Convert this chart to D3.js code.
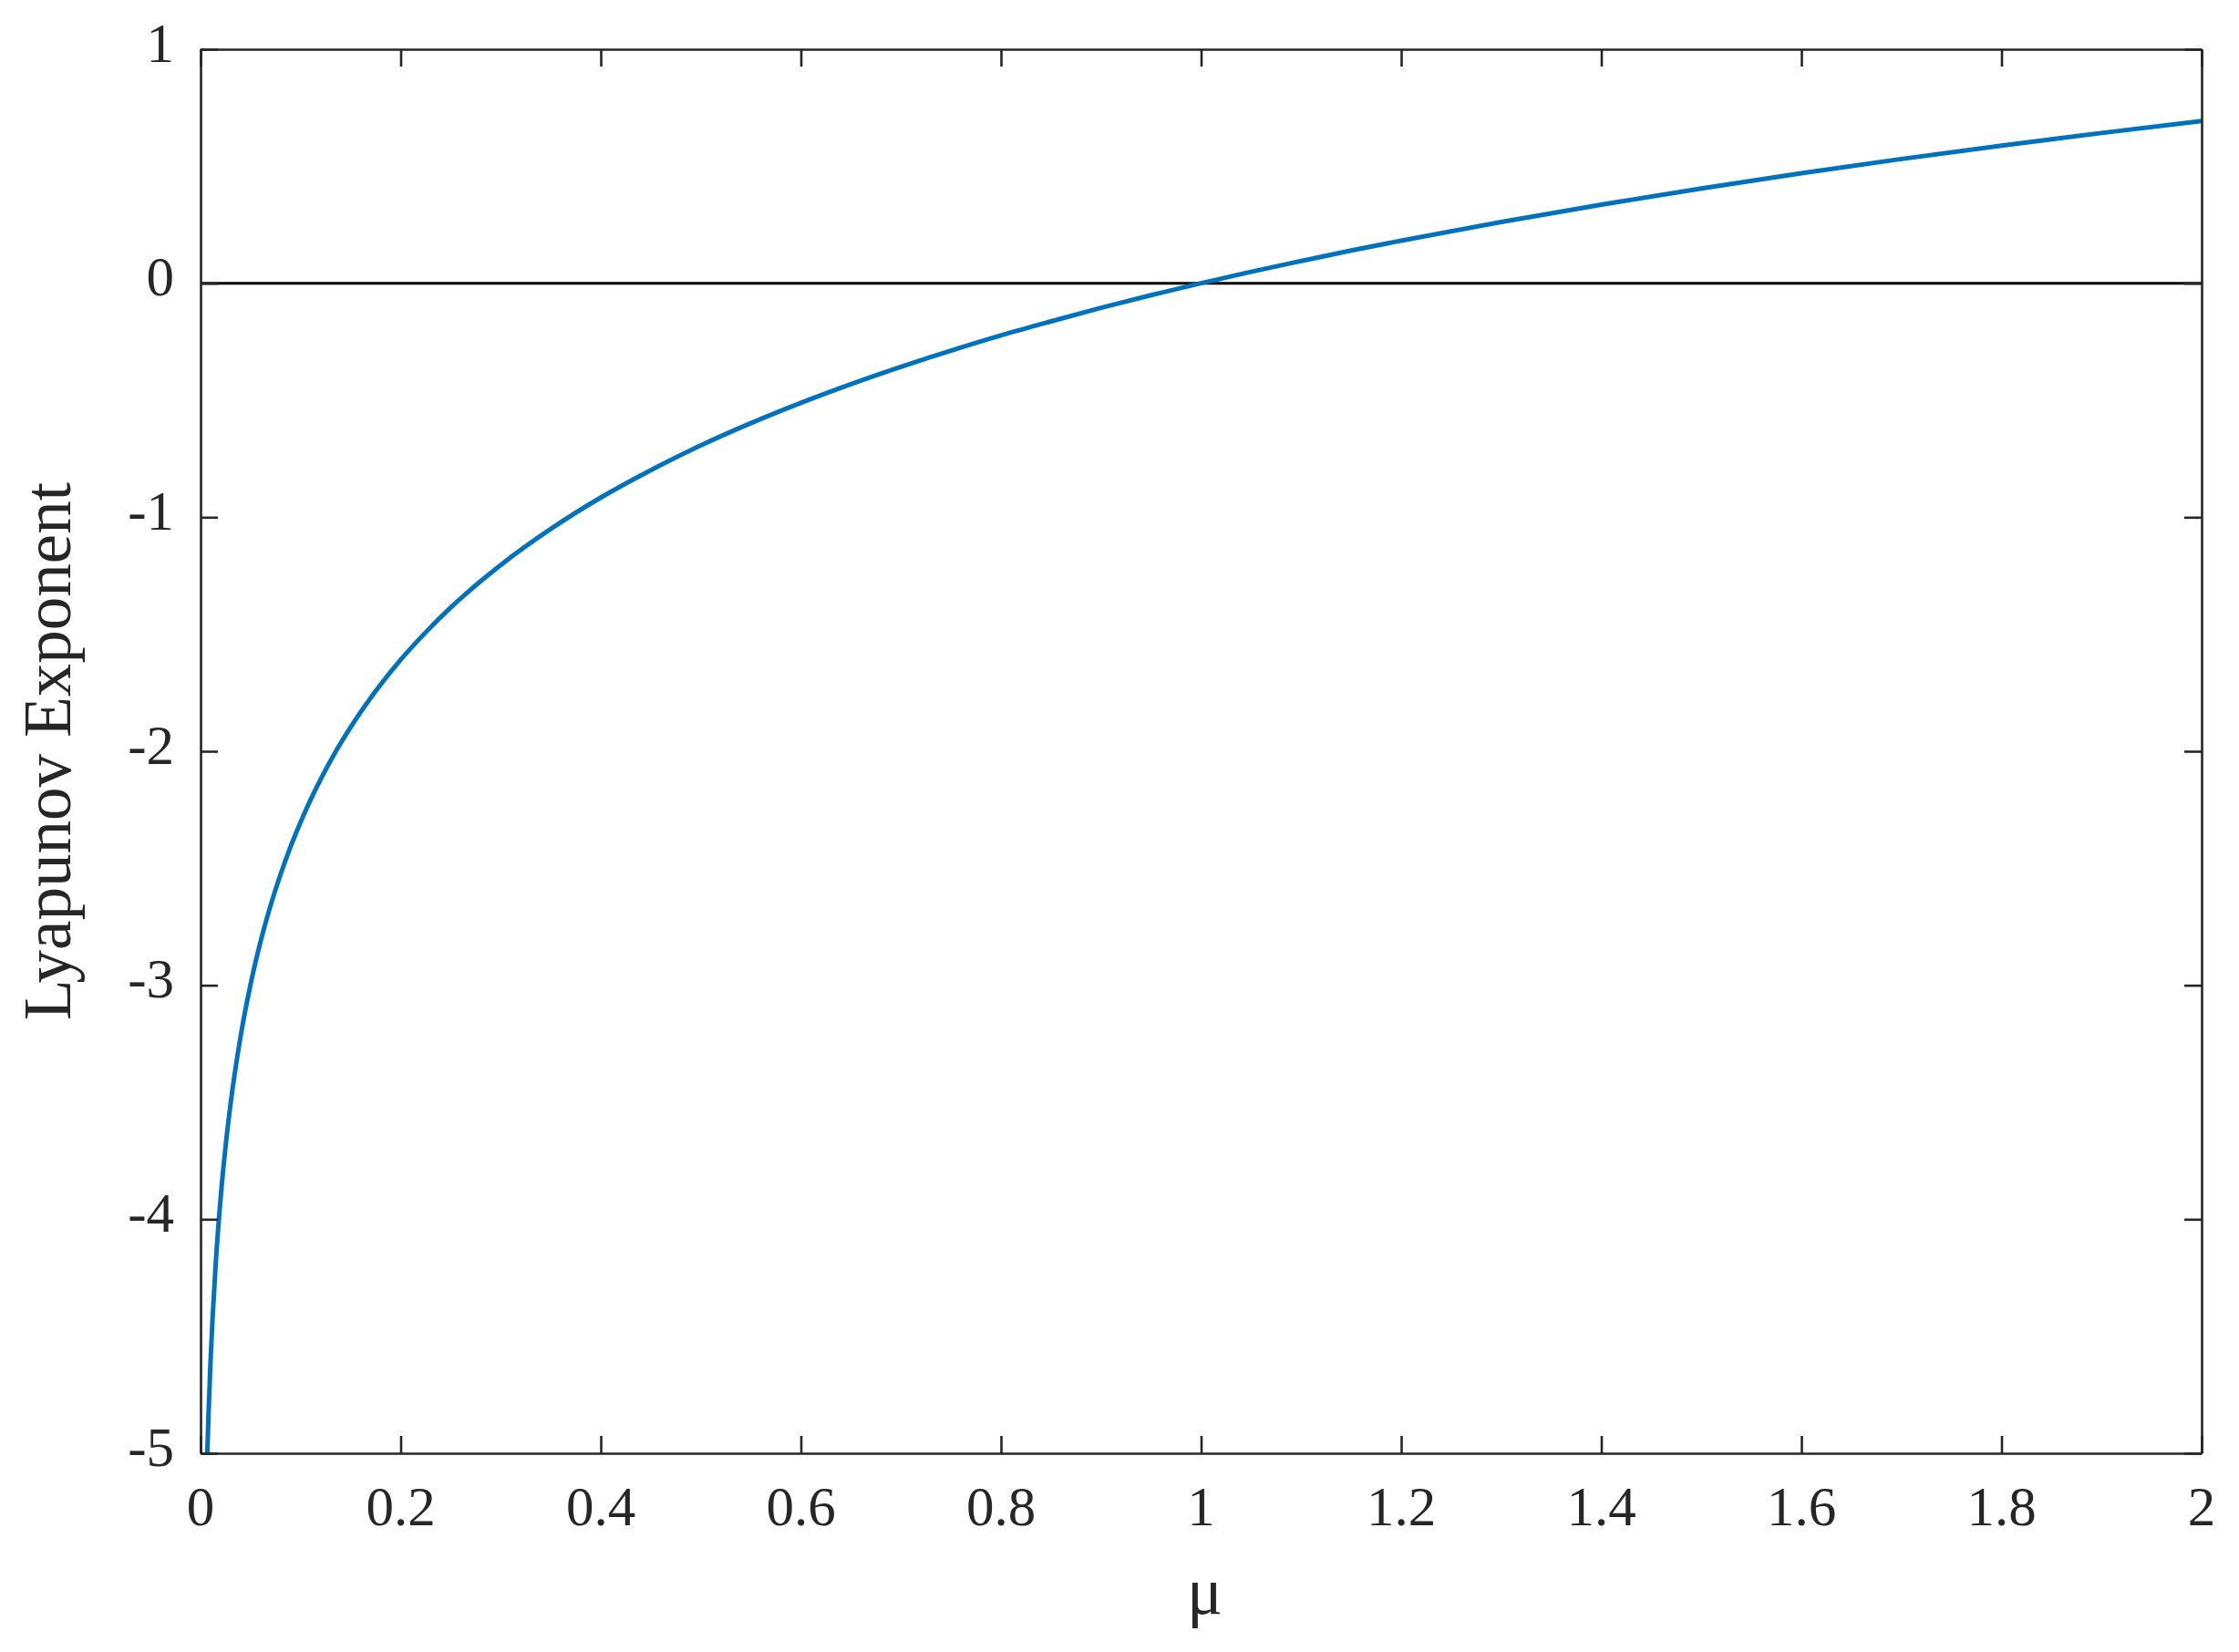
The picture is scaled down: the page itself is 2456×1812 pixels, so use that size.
<!DOCTYPE html>
<html>
<head>
<meta charset="utf-8">
<script src="https://cdn.jsdelivr.net/npm/d3@7"></script>
<style>
  html, body { margin: 0; padding: 0; background: #fff; }
  svg { display: block; }
</style>
</head>
<body>
<div id="chart"></div>
<script>
// values
const muValues = [0.0067, 0.008, 0.01, 0.012, 0.015, 0.02, 0.025, 0.03, 0.04, 0.05,
  0.06, 0.07, 0.08, 0.09, 0.1, 0.11, 0.12, 0.135, 0.15, 0.175, 0.2, 0.225, 0.25, 0.275,
  0.3, 0.35, 0.4, 0.45, 0.5, 0.55, 0.6, 0.65, 0.7, 0.75, 0.8, 0.85, 0.9, 0.95,
  1.0, 1.05, 1.1, 1.15, 1.2, 1.3, 1.4, 1.5, 1.6, 1.7, 1.8, 1.9, 2.0];
const lyapValues = [-5.0, -4.828, -4.605, -4.423, -4.200, -3.912, -3.689, -3.507, -3.219, -2.996,
  -2.813, -2.659, -2.526, -2.408, -2.303, -2.207, -2.120, -2.002, -1.897, -1.743, -1.609, -1.492, -1.386, -1.291,
  -1.204, -1.050, -0.916, -0.799, -0.693, -0.598, -0.511, -0.431, -0.357, -0.288, -0.223, -0.163, -0.105, -0.051,
  0.0, 0.049, 0.095, 0.140, 0.182, 0.262, 0.336, 0.405, 0.470, 0.531, 0.588, 0.642, 0.693];
const xTicks = [0, 0.2, 0.4, 0.6, 0.8, 1, 1.2, 1.4, 1.6, 1.8, 2];
const yTicks = [1, 0, -1, -2, -3, -4, -5];

const W = 2456, H = 1812
, plotLeft = 220, plotRight = 2415, plotTop = 54, plotBottom = 1594
, tickLen = 19
, axisColor = "#262626"
, lineColor = "#0072BD"
, font = "'Liberation Serif', 'Times New Roman', serif";

const x = d3.scaleLinear().domain([0, 2]).range([plotLeft, plotRight]);
const y = d3.scaleLinear().domain([-5, 1]).range([plotBottom, plotTop]);

const svg = d3.select("#chart").append("svg")
  .attr("width", W)
  .attr("height", H);

// zero line
svg.append("line")
  .attr("x1", x(0)).attr("x2", x(2))
  .attr("y1", y(0)).attr("y2", y(0))
  .style("stroke", "#000")
  .style("stroke-width", 3);

// curve
const data = muValues.map((m, i) => [m, lyapValues[i]]);
const line = d3.line()
  .x(d => x(d[0]))
  .y(d => y(d[1]))
  .curve(d3.curveMonotoneX);

svg.append("path")
  .datum(data)
  .attr("d", line)
  .style("fill", "none")
  .style("stroke", lineColor)
  .style("stroke-width", 5);

// axes, ticks pointing inward on all four sides
function styleAxis(g) {
  g.select(".domain").style("stroke", axisColor).style("stroke-width", 2.6);
  g.selectAll(".tick line").style("stroke", axisColor).style("stroke-width", 2.6);
  g.selectAll("text").remove();
}

svg.append("g")
  .attr("transform", `translate(0,${plotBottom})`)
  .call(d3.axisBottom(x).tickValues(xTicks).tickSize(-tickLen).tickSizeOuter(0))
  .call(styleAxis);
svg.append("g")
  .attr("transform", `translate(0,${plotTop})`)
  .call(d3.axisTop(x).tickValues(xTicks).tickSize(-tickLen).tickSizeOuter(0))
  .call(styleAxis);
svg.append("g")
  .attr("transform", `translate(${plotLeft},0)`)
  .call(d3.axisLeft(y).tickValues(yTicks).tickSize(-tickLen).tickSizeOuter(0))
  .call(styleAxis);
svg.append("g")
  .attr("transform", `translate(${plotRight},0)`)
  .call(d3.axisRight(y).tickValues(yTicks).tickSize(-tickLen).tickSizeOuter(0))
  .call(styleAxis);

// tick labels
svg.selectAll(".xlabel")
  .data(xTicks)
  .enter().append("text")
  .attr("class", "xlabel")
  .attr("x", d => x(d))
  .attr("y", 1673)
  .attr("text-anchor", "middle")
  .style("font-family", font)
  .style("font-size", "61px")
  .style("fill", axisColor)
  .text(d => d);

svg.selectAll(".ylabel")
  .data(yTicks)
  .enter().append("text")
  .attr("class", "ylabel")
  .attr("x", 191)
  .attr("y", d => y(d) + 13.5)
  .attr("text-anchor", "end")
  .style("font-family", font)
  .style("font-size", "61px")
  .style("fill", axisColor)
  .text(d => d);

// axis titles
svg.append("text")
  .attr("x", (plotLeft + plotRight) / 2 + 4)
  .attr("y", 1770)
  .attr("text-anchor", "middle")
  .style("font-family", font)
  .style("font-size", "73px")
  .style("fill", axisColor)
  .text("μ");

svg.append("text")
  .attr("transform", `translate(77,${(plotTop + plotBottom) / 2}) rotate(-90)`)
  .attr("text-anchor", "middle")
  .style("font-family", font)
  .style("font-size", "73px")
  .style("fill", axisColor)
  .text("Lyapunov Exponent");
</script>
</body>
</html>
